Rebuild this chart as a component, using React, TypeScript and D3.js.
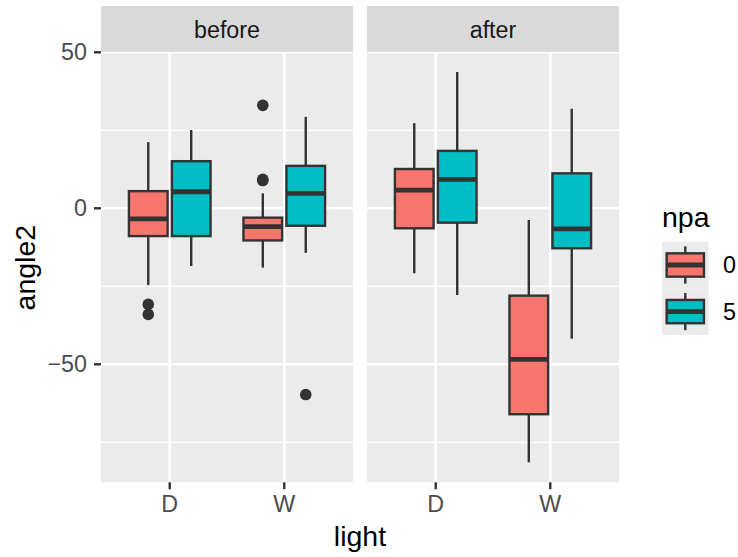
import React from "react";
import * as d3 from "d3";

// ---- data ----
const panels = ["before", "after"];
const lights = ["D", "W"];
const npaLevels = ["0", "5"];
const npaColors = ["#F8766D", "#00BFC4"];

const boxPanel = ["before", "before", "before", "before", "after", "after", "after", "after"];
const boxLight = ["D", "D", "W", "W", "D", "D", "W", "W"];
const boxNpa = ["0", "5", "0", "5", "0", "5", "0", "5"];
const whiskerLow = [-24.6, -18.5, -19.0, -14.3, -20.8, -27.8, -81.4, -41.8];
const q1 = [-8.9, -8.9, -10.3, -5.6, -6.4, -4.6, -66.0, -12.8];
const median = [-3.4, 5.3, -5.9, 4.8, 5.8, 9.3, -48.4, -6.6];
const q3 = [5.5, 15.1, -3.0, 13.6, 12.6, 18.4, -28.0, 11.2];
const whiskerHigh = [21.2, 25.1, 4.8, 29.3, 27.3, 43.7, -3.75, 31.9];

const outPanel = ["before", "before", "before", "before", "before", "before"];
const outLight = ["D", "D", "W", "W", "W", "W"];
const outNpa = ["0", "0", "0", "0", "0", "5"];
const outValue = [-30.8, -34.0, 33.0, 9.3, 8.9, -59.7];

const yTicks = [50, 0, -50];
const yMinor = [25, -25, -75];

// ---- layout ----
const W = 738, H = 557;
const panelX = [101, 367];
const panelW = 252;
const panelTop = 53, panelBottom = 482.3;
const stripTop = 6, stripBottom = 52;
const font = "'Liberation Sans', Arial, Helvetica, sans-serif";
const small = 23.3, big = 28.5;

export default function App() {
  const y = d3.scaleLinear().domain([0, 50]).range([208.3, 52.3]);
  const xs = panels.map((p, i) =>
    d3.scaleLinear().domain([0.4, 2.6]).range([panelX[i], panelX[i] + panelW])
  );
  const dodge = 0.1875;
  const boxW = 0.3375;
  const boxLw = 2.4;

  const xPos = (pi: number, light: string, npa: string) =>
    lights.indexOf(light) + 1 + (npaLevels.indexOf(npa) === 0 ? -dodge : dodge);

  return (
    <svg width={W} height={H} style={{ position: "absolute", left: 0, top: 0, background: "#fff" }} fontFamily={font}>
      {panels.map((p, pi) => {
        const x = xs[pi];
        return (
          <g key={p}>
            <rect x={panelX[pi]} y={panelTop} width={panelW} height={panelBottom - panelTop} fill="#EBEBEB" />
            {yMinor.map((v) => (
              <line key={"mn" + v} x1={panelX[pi]} x2={panelX[pi] + panelW} y1={y(v)} y2={y(v)} stroke="#fff" strokeWidth={1.3} />
            ))}
            {yTicks.map((v) => (
              <line key={"mj" + v} x1={panelX[pi]} x2={panelX[pi] + panelW} y1={y(v)} y2={y(v)} stroke="#fff" strokeWidth={2.6} />
            ))}
            {lights.map((l, li) => (
              <line key={"vx" + l} x1={x(li + 1)} x2={x(li + 1)} y1={panelTop} y2={panelBottom} stroke="#fff" strokeWidth={2.6} />
            ))}
            <rect x={panelX[pi]} y={stripTop} width={panelW} height={stripBottom - stripTop} fill="#D9D9D9" />
            <text x={panelX[pi] + panelW / 2} y={29.5} textAnchor="middle" dominantBaseline="central" fontSize={small} fill="#1A1A1A">{p}</text>
            {lights.map((l, li) => (
              <g key={"xt" + l}>
                <line x1={x(li + 1)} x2={x(li + 1)} y1={panelBottom} y2={panelBottom + 7} stroke="#333" strokeWidth={2.4} />
                <text x={x(li + 1)} y={512.3} textAnchor="middle" fontSize={small} fill="#4D4D4D">{l}</text>
              </g>
            ))}
            {boxPanel.map((bp, i) => {
              if (bp !== p) return null;
              const cx = xPos(pi, boxLight[i], boxNpa[i]);
              const xl = x(cx - boxW / 2), xr = x(cx + boxW / 2), xc = x(cx);
              const fill = npaColors[npaLevels.indexOf(boxNpa[i])];
              return (
                <g key={"b" + i}>
                  <line x1={xc} x2={xc} y1={y(q3[i])} y2={y(whiskerHigh[i])} stroke="#333" strokeWidth={boxLw} />
                  <line x1={xc} x2={xc} y1={y(q1[i])} y2={y(whiskerLow[i])} stroke="#333" strokeWidth={boxLw} />
                  <rect x={xl} y={y(q3[i])} width={xr - xl} height={y(q1[i]) - y(q3[i])} fill={fill} stroke="#333" strokeWidth={boxLw} />
                  <line x1={xl} x2={xr} y1={y(median[i])} y2={y(median[i])} stroke="#333" strokeWidth={boxLw * 2} />
                </g>
              );
            })}
            {outPanel.map((op, i) => {
              if (op !== p) return null;
              const cx = xPos(pi, outLight[i], outNpa[i]);
              return <circle key={"o" + i} cx={x(cx)} cy={y(outValue[i])} r={5.8} fill="#333" />;
            })}
          </g>
        );
      })}
      {/* y axis */}
      {yTicks.map((v) => (
        <g key={"yt" + v}>
          <line x1={94} x2={101} y1={y(v)} y2={y(v)} stroke="#333" strokeWidth={2.4} />
          <text x={87} y={y(v)} textAnchor="end" dominantBaseline="central" fontSize={small} fill="#4D4D4D">
            {v < 0 ? "\u2212" + Math.abs(v) : String(v)}
          </text>
        </g>
      ))}
      <text transform={`translate(35, ${(panelTop + panelBottom) / 2}) rotate(-90)`} textAnchor="middle" fontSize={big} fill="#000">angle2</text>
      <text x={(panelX[0] + panelX[1] + panelW) / 2} y={545.7} textAnchor="middle" fontSize={big} fill="#000">light</text>
      {/* legend */}
      <text x={662} y={227.3} fontSize={big} fill="#000">npa</text>
      {npaLevels.map((lv, i) => {
        const kt = 241.7 + i * 46.6;
        const ks = 46.6;
        const kx = 662;
        return (
          <g key={"lg" + lv}>
            <rect x={kx} y={kt} width={ks} height={ks} fill="#EBEBEB" />
            <line x1={kx + ks / 2} x2={kx + ks / 2} y1={kt + ks * 0.1} y2={kt + ks * 0.25} stroke="#333" strokeWidth={boxLw} />
            <line x1={kx + ks / 2} x2={kx + ks / 2} y1={kt + ks * 0.75} y2={kt + ks * 0.9} stroke="#333" strokeWidth={boxLw} />
            <rect x={kx + ks * 0.1} y={kt + ks * 0.25} width={ks * 0.8} height={ks * 0.5} fill={npaColors[i]} stroke="#333" strokeWidth={boxLw} />
            <line x1={kx + ks * 0.1} x2={kx + ks * 0.9} y1={kt + ks / 2} y2={kt + ks / 2} stroke="#333" strokeWidth={boxLw * 2} />
            <text x={723} y={kt + ks / 2} dominantBaseline="central" fontSize={small} fill="#000">{lv}</text>
          </g>
        );
      })}
    </svg>
  );
}
